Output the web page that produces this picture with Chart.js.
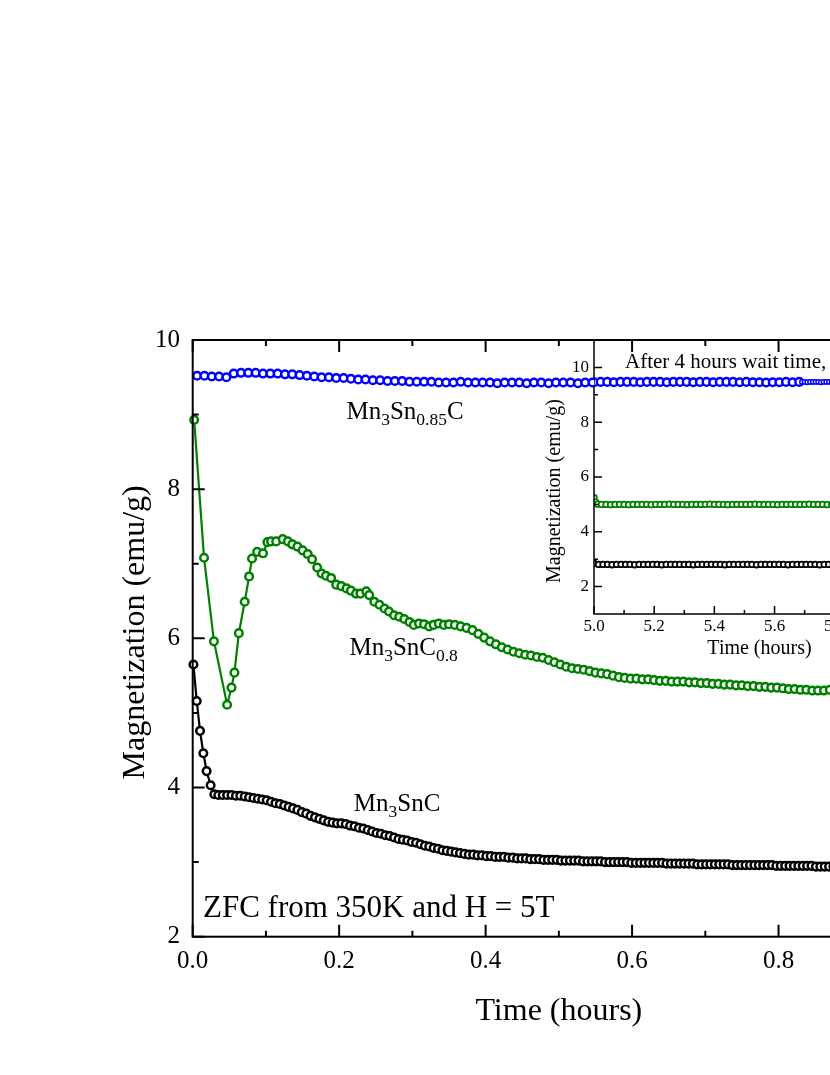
<!DOCTYPE html>
<html>
<head>
<meta charset="utf-8">
<title>Magnetization relaxation</title>
<script src="https://cdn.jsdelivr.net/npm/chart.js"></script>
<style>
  html, body { margin: 0; padding: 0; background: #fff; }
  body { width: 830px; height: 1075px; overflow: hidden; position: relative; }
  canvas { position: absolute; }
  #main { left: 0; top: 0; z-index: 2; }
  #inset { left: 440px; top: 300px; z-index: 1; }
</style>
</head>
<body>
<canvas id="inset" width="520" height="400"></canvas>
<canvas id="main" width="960" height="1075"></canvas>
<script>
// Serif font close to the Times look of the original figure
const FONT = '"Liberation Serif", "Times New Roman", serif';

// ---------- main plot: time (hours) vs magnetization (emu/g) ----------
const blackTime = [
  0.001, 0.0055, 0.010, 0.0145, 0.019, 0.0245, 0.0295,
  0.035, 0.041, 0.047, 0.053, 0.059, 0.065, 0.071, 0.077, 0.083, 0.089,
  0.095, 0.101, 0.107, 0.113, 0.119, 0.125, 0.131, 0.137, 0.143, 0.149,
  0.155, 0.161, 0.167, 0.173, 0.179, 0.185, 0.191, 0.197, 0.203, 0.209,
  0.215, 0.221, 0.227, 0.233, 0.239, 0.245, 0.251, 0.257, 0.263, 0.269,
  0.275, 0.281, 0.287, 0.293, 0.299, 0.305, 0.311, 0.317, 0.323, 0.329,
  0.335, 0.341, 0.347, 0.353, 0.359, 0.365, 0.371, 0.377, 0.383, 0.389,
  0.395, 0.401, 0.407, 0.413, 0.419, 0.425, 0.431, 0.437, 0.443, 0.449,
  0.455, 0.461, 0.467, 0.473, 0.479, 0.485, 0.491, 0.497, 0.503, 0.509,
  0.515, 0.521, 0.527, 0.533, 0.539, 0.545, 0.551, 0.557, 0.563, 0.569,
  0.575, 0.581, 0.587, 0.593, 0.599, 0.605, 0.611, 0.617, 0.623, 0.629,
  0.635, 0.641, 0.647, 0.653, 0.659, 0.665, 0.671, 0.677, 0.683, 0.689,
  0.695, 0.701, 0.707, 0.713, 0.719, 0.725, 0.731, 0.737, 0.743, 0.749,
  0.755, 0.761, 0.767, 0.773, 0.779, 0.785, 0.791, 0.797, 0.803, 0.809,
  0.815, 0.821, 0.827, 0.833, 0.839, 0.845, 0.851, 0.857, 0.863, 0.869,
  0.875, 0.881, 0.887, 0.893, 0.899, 0.905, 0.911, 0.917, 0.923, 0.929,
  0.935, 0.941, 0.947, 0.953, 0.959, 0.965, 0.971, 0.977, 0.983, 0.989,
  0.995
];
const blackMag = [
  5.65, 5.16, 4.76, 4.46, 4.22, 4.03, 3.91,
  3.90, 3.90, 3.90, 3.90, 3.89, 3.89, 3.88, 3.87, 3.86, 3.85,
  3.84, 3.83, 3.81, 3.79, 3.78, 3.76, 3.74, 3.72, 3.70, 3.67,
  3.65, 3.62, 3.60, 3.58, 3.56, 3.54, 3.53, 3.52, 3.52, 3.51,
  3.49, 3.48, 3.46, 3.45, 3.43, 3.41, 3.39, 3.38, 3.36, 3.35,
  3.33, 3.31, 3.30, 3.29, 3.27, 3.26, 3.24, 3.22, 3.21, 3.19,
  3.18, 3.16, 3.15, 3.14, 3.13, 3.12, 3.11, 3.10, 3.10, 3.09,
  3.09, 3.08, 3.08, 3.07, 3.07, 3.07, 3.06, 3.06, 3.05, 3.05,
  3.05, 3.04, 3.04, 3.04, 3.03, 3.03, 3.03, 3.03, 3.02, 3.02,
  3.02, 3.02, 3.02, 3.01, 3.01, 3.01, 3.01, 3.01, 3.00, 3.00,
  3.00, 3.00, 3.00, 3.00, 2.99, 2.99, 2.99, 2.99, 2.99, 2.99,
  2.99, 2.99, 2.98, 2.98, 2.98, 2.98, 2.98, 2.98, 2.98, 2.97,
  2.97, 2.97, 2.97, 2.97, 2.97, 2.97, 2.97, 2.96, 2.96, 2.96,
  2.96, 2.96, 2.96, 2.96, 2.96, 2.96, 2.96, 2.95, 2.95, 2.95,
  2.95, 2.95, 2.95, 2.95, 2.95, 2.95, 2.94, 2.94, 2.94, 2.94,
  2.94, 2.94, 2.94, 2.94, 2.94, 2.94, 2.94, 2.94, 2.94, 2.93,
  2.93, 2.93, 2.93, 2.93, 2.93, 2.93, 2.93, 2.93, 2.93, 2.93,
  2.93
];

const greenTime = [
  0.002, 0.0155, 0.029, 0.047, 0.053, 0.057, 0.063, 0.071, 0.077, 0.081,
  0.088, 0.096, 0.102, 0.107, 0.114, 0.123, 0.130, 0.136, 0.143, 0.150,
  0.157, 0.163, 0.170, 0.176, 0.182, 0.189, 0.196, 0.203, 0.210, 0.216,
  0.223, 0.229, 0.237, 0.241, 0.248, 0.255, 0.262, 0.268, 0.275, 0.282,
  0.289, 0.296, 0.302, 0.309, 0.316, 0.323, 0.329, 0.336, 0.343,
  0.350, 0.358, 0.366, 0.374, 0.382, 0.390, 0.398, 0.406, 0.414, 0.422,
  0.430, 0.438, 0.446, 0.454, 0.462, 0.470, 0.478, 0.486, 0.494, 0.502,
  0.510, 0.518, 0.526, 0.534, 0.542, 0.550, 0.558, 0.566, 0.574, 0.582,
  0.590, 0.598, 0.606, 0.614, 0.622, 0.630, 0.638, 0.646, 0.654, 0.662,
  0.670, 0.678, 0.686, 0.694, 0.702, 0.710, 0.718, 0.726, 0.734, 0.742,
  0.750, 0.758, 0.766, 0.774, 0.782, 0.790, 0.798, 0.806, 0.814, 0.822,
  0.830, 0.838, 0.846, 0.854, 0.862, 0.870, 0.878, 0.886, 0.894, 0.902,
  0.910, 0.918, 0.926, 0.934, 0.942, 0.950, 0.958, 0.966, 0.974, 0.982,
  0.990, 0.998
];
const greenMag = [
  8.93, 7.08, 5.96, 5.11, 5.34, 5.54, 6.07, 6.49, 6.83, 7.07,
  7.16, 7.14, 7.29, 7.30, 7.30, 7.33, 7.30, 7.26, 7.23, 7.18,
  7.13, 7.06, 6.95, 6.87, 6.84, 6.81, 6.72, 6.70, 6.67, 6.64,
  6.60, 6.60, 6.63, 6.58, 6.49, 6.45, 6.40, 6.36, 6.31, 6.29,
  6.26, 6.22, 6.18, 6.20, 6.19, 6.16, 6.18, 6.20, 6.18,
  6.19, 6.18, 6.16, 6.14, 6.11, 6.06, 6.01, 5.96, 5.92, 5.88,
  5.85, 5.82, 5.80, 5.78, 5.77, 5.75, 5.74, 5.71, 5.68, 5.65,
  5.62, 5.60, 5.59, 5.58, 5.56, 5.54, 5.53, 5.52, 5.50, 5.48,
  5.47, 5.46, 5.46, 5.45, 5.45, 5.44, 5.43, 5.43, 5.42, 5.42,
  5.42, 5.41, 5.41, 5.40, 5.40, 5.39, 5.39, 5.38, 5.38, 5.37,
  5.37, 5.36, 5.36, 5.35, 5.35, 5.34, 5.34, 5.33, 5.32, 5.32,
  5.31, 5.31, 5.30, 5.30, 5.30, 5.31, 5.30, 5.30, 5.29, 5.29,
  5.29, 5.28, 5.28, 5.28, 5.28, 5.27, 5.27, 5.27, 5.27, 5.26,
  5.26, 5.26
];

const blueTime = [
  0.006, 0.016, 0.026, 0.036, 0.046, 0.056, 0.066, 0.076, 0.086, 0.096,
  0.106, 0.116, 0.126, 0.136, 0.146, 0.156, 0.166, 0.176, 0.186, 0.196,
  0.206, 0.216, 0.226, 0.236, 0.246, 0.256, 0.266, 0.276, 0.286, 0.296,
  0.306, 0.316, 0.326, 0.336, 0.346, 0.356, 0.366, 0.376, 0.386, 0.396,
  0.406, 0.416, 0.426, 0.436, 0.446, 0.456, 0.466, 0.476, 0.486, 0.496,
  0.506, 0.516, 0.526, 0.536, 0.546, 0.556, 0.566, 0.576, 0.586, 0.596
];
const blueMag = [
  9.52, 9.52, 9.51, 9.51, 9.50, 9.55, 9.56, 9.56, 9.56, 9.55,
  9.55, 9.55, 9.54, 9.54, 9.53, 9.52, 9.51, 9.50, 9.50, 9.49,
  9.49, 9.48, 9.47, 9.47, 9.46, 9.46, 9.45, 9.45, 9.45, 9.44,
  9.44, 9.44, 9.44, 9.43, 9.43, 9.43, 9.44, 9.43, 9.43, 9.43,
  9.43, 9.42, 9.43, 9.43, 9.43, 9.42, 9.43, 9.43, 9.42, 9.43,
  9.43, 9.43, 9.42, 9.43, 9.43, 9.43, 9.43, 9.43, 9.43, 9.43
];

// ---------- inset: after 4 hours wait time ----------
const insetBlueTime = [
  5.000, 5.022, 5.044, 5.066, 5.088, 5.110, 5.132, 5.154, 5.176, 5.198,
  5.220, 5.242, 5.264, 5.286, 5.308, 5.330, 5.352, 5.374, 5.396, 5.418,
  5.440, 5.462, 5.484, 5.506, 5.528, 5.550, 5.572, 5.594, 5.616, 5.638,
  5.660, 5.682,
  5.691, 5.700, 5.709, 5.718, 5.727, 5.736, 5.745, 5.754, 5.763, 5.772,
  5.781, 5.790, 5.799, 5.808, 5.817, 5.826, 5.835, 5.844, 5.853, 5.862,
  5.871, 5.880, 5.889, 5.898, 5.907, 5.916, 5.925, 5.934, 5.943, 5.952,
  5.961, 5.970, 5.979, 5.988, 5.997, 6.006, 6.015, 6.024, 6.033, 6.042,
  6.051, 6.060, 6.069, 6.078, 6.087, 6.096
];
const insetBlueMag = [
  9.46, 9.47, 9.47, 9.46, 9.47, 9.47, 9.47, 9.46, 9.47, 9.47,
  9.47, 9.46, 9.47, 9.47, 9.47, 9.46, 9.47, 9.47, 9.46, 9.47,
  9.47, 9.47, 9.46, 9.47, 9.46, 9.46, 9.45, 9.46, 9.46, 9.47,
  9.46, 9.47,
  9.47, 9.47, 9.46, 9.47, 9.47, 9.47, 9.47, 9.46, 9.47, 9.47,
  9.47, 9.47, 9.47, 9.46, 9.47, 9.47, 9.47, 9.47, 9.47, 9.46,
  9.47, 9.47, 9.47, 9.47, 9.46, 9.47, 9.47, 9.47, 9.47, 9.47,
  9.46, 9.47, 9.47, 9.47, 9.47, 9.47, 9.46, 9.47, 9.47, 9.47,
  9.47, 9.47, 9.46, 9.47, 9.47, 9.47
];

const insetGreenTime = [
  5.000, 5.006, 5.012, 5.025, 5.040, 5.055, 5.070, 5.085, 5.100, 5.115,
  5.130, 5.145, 5.160, 5.175, 5.190, 5.205, 5.220, 5.235, 5.250, 5.265,
  5.280, 5.295, 5.310, 5.325, 5.340, 5.355, 5.370, 5.385, 5.400, 5.415,
  5.430, 5.445, 5.460, 5.475, 5.490, 5.505, 5.520, 5.535, 5.550, 5.565,
  5.580, 5.595, 5.610, 5.625, 5.640, 5.655, 5.670, 5.685, 5.700, 5.715,
  5.730, 5.745, 5.760, 5.775, 5.790, 5.805, 5.820, 5.835, 5.850, 5.865,
  5.880, 5.895, 5.910, 5.925, 5.940, 5.955, 5.970, 5.985, 6.000, 6.015,
  6.030, 6.045, 6.060, 6.075
];
const insetGreenMag = [
  5.25, 5.08, 5.01, 5.00, 5.00, 4.99, 5.00, 5.00, 5.00, 4.99,
  5.00, 5.00, 5.00, 5.00, 4.99, 5.00, 5.00, 5.00, 5.01, 5.00,
  5.00, 5.00, 4.99, 5.00, 5.00, 5.00, 5.00, 5.01, 5.00, 5.00,
  5.00, 4.99, 5.00, 5.00, 5.00, 5.00, 5.00, 5.01, 5.00, 5.00,
  5.00, 5.00, 4.99, 5.00, 5.00, 5.00, 5.00, 5.00, 5.00, 5.01,
  5.00, 5.00, 5.00, 4.99, 5.00, 5.00, 5.00, 5.00, 5.00, 5.00,
  5.01, 5.00, 5.00, 5.00, 5.00, 4.99, 5.00, 5.00, 5.00, 5.00,
  5.00, 5.00, 5.01, 5.00
];

const insetBlackTime = [
  5.000, 5.015, 5.030, 5.045, 5.060, 5.075, 5.090, 5.105, 5.120, 5.135,
  5.150, 5.165, 5.180, 5.195, 5.210, 5.225, 5.240, 5.255, 5.270, 5.285,
  5.300, 5.315, 5.330, 5.345, 5.360, 5.375, 5.390, 5.405, 5.420, 5.435,
  5.450, 5.465, 5.480, 5.495, 5.510, 5.525, 5.540, 5.555, 5.570, 5.585,
  5.600, 5.615, 5.630, 5.645, 5.660, 5.675, 5.690, 5.705, 5.720, 5.735,
  5.750, 5.765, 5.780, 5.795, 5.810, 5.825, 5.840, 5.855, 5.870, 5.885,
  5.900, 5.915, 5.930, 5.945, 5.960, 5.975, 5.990, 6.005, 6.020, 6.035,
  6.050, 6.065, 6.080, 6.095
];
const insetBlackMag = [
  2.85, 2.81, 2.81, 2.81, 2.80, 2.81, 2.81, 2.81, 2.81, 2.80,
  2.81, 2.81, 2.81, 2.81, 2.81, 2.80, 2.81, 2.81, 2.81, 2.81,
  2.81, 2.81, 2.80, 2.81, 2.81, 2.81, 2.81, 2.81, 2.81, 2.80,
  2.81, 2.81, 2.81, 2.81, 2.81, 2.81, 2.80, 2.81, 2.81, 2.81,
  2.81, 2.81, 2.81, 2.80, 2.81, 2.81, 2.81, 2.81, 2.81, 2.81,
  2.80, 2.81, 2.81, 2.81, 2.81, 2.81, 2.81, 2.81, 2.80, 2.81,
  2.81, 2.81, 2.81, 2.81, 2.81, 2.80, 2.81, 2.81, 2.81, 2.81,
  2.81, 2.81, 2.81, 2.80
];

// ---------- tick values ----------
const mainXTicks = [0, 0.2, 0.4, 0.6, 0.8, 1.0];
const mainYTicks = [2, 4, 6, 8, 10];
const insetXTicks = [5.0, 5.2, 5.4, 5.6, 5.8, 6.0];
const insetYTicks = [2, 4, 6, 8, 10];

// ---------- text labels (piece, isSubscript) ----------
const labelBlue = [['Mn', 0], ['3', 1], ['Sn', 0], ['0.85', 1], ['C', 0]];
const labelGreen = [['Mn', 0], ['3', 1], ['SnC', 0], ['0.8', 1]];
const labelBlack = [['Mn', 0], ['3', 1], ['SnC', 0]];

// Helper: zip two arrays into {x, y} points
function points(xs, ys) {
  return xs.map((x, i) => ({ x: x, y: ys[i] }));
}

// Helper: midpoints between consecutive major ticks (minor tick positions)
function midpoints(arr) {
  return arr.slice(1).map((v, i) => (v + arr[i]) / 2);
}

// One dataset with open circle markers
function series(xs, ys, color, extra) {
  return Object.assign({
    data: points(xs, ys),
    borderColor: color,
    pointBorderColor: color,
    pointBackgroundColor: '#fff',
    borderWidth: 2.2,
    pointBorderWidth: 2.5,
    pointRadius: 3.8,
    pointHoverRadius: 3.8,
    tension: 0
  }, extra || {});
}

// Write a chemical formula with subscripts, left aligned on a baseline
function drawFormula(ctx, parts, x, y, size) {
  let cx = x;
  parts.forEach(([txt, sub]) => {
    const s = sub ? size * 0.7 : size;
    ctx.font = s + 'px ' + FONT;
    ctx.fillText(txt, cx, sub ? y + size * 0.24 : y);
    cx += ctx.measureText(txt).width;
  });
}

// Plugin: frame around the plot with inward (Origin style) tick marks
function frameTicks(o) {
  return {
    id: 'frameTicks',
    afterDraw(chart) {
      const { ctx, chartArea: a } = chart;
      const sx = chart.scales.x, sy = chart.scales.y;
      ctx.save();
      ctx.strokeStyle = '#000';
      ctx.lineWidth = o.lineWidth;
      ctx.beginPath();
      const tickX = (v, len) => {
        const p = sx.getPixelForValue(v);
        ctx.moveTo(p, a.bottom); ctx.lineTo(p, a.bottom - len);
        if (o.mirror) { ctx.moveTo(p, a.top); ctx.lineTo(p, a.top + len); }
      };
      const tickY = (v, len) => {
        const p = sy.getPixelForValue(v);
        ctx.moveTo(a.left, p); ctx.lineTo(a.left + len, p);
        if (o.mirror) { ctx.moveTo(a.right, p); ctx.lineTo(a.right - len, p); }
      };
      o.xMajor.forEach(v => tickX(v, o.major));
      midpoints(o.xMajor).forEach(v => tickX(v, o.minor));
      o.yMajor.forEach(v => tickY(v, o.major));
      midpoints(o.yMajor).forEach(v => tickY(v, o.minor));
      ctx.stroke();
      ctx.strokeRect(a.left, a.top, a.right - a.left, a.bottom - a.top);
      ctx.restore();
    }
  };
}

// Shared axis settings (ticks drawn by frameTicks, labels by Chart.js)
function axis(min, max, ticks, size, padding, fmt, fit) {
  return {
    type: 'linear',
    min: min,
    max: max,
    afterBuildTicks: s => { s.ticks = ticks.map(v => ({ value: v })); },
    afterFit: fit,
    grid: { display: false, drawTicks: false },
    border: { display: false },
    ticks: {
      padding: padding,
      color: '#000',
      autoSkip: false,
      maxRotation: 0,
      font: { family: FONT, size: size },
      callback: fmt
    }
  };
}

document.addEventListener('DOMContentLoaded', () => {
  // 1. Inset chart (sits under the main canvas)
  const insetCanvas = document.getElementById('inset');
  const insetText = {
    id: 'insetText',
    afterDraw(chart) {
      const { ctx, chartArea: a, scales: { x, y } } = chart;
      ctx.save();
      ctx.fillStyle = '#000';
      ctx.textAlign = 'center';
      ctx.textBaseline = 'middle';
      ctx.font = '20px ' + FONT;
      ctx.fillText('Time (hours)', (a.left + a.right) / 2, a.bottom + 34.5);
      ctx.translate(a.left - 39, (a.top + a.bottom) / 2 + 14);
      ctx.rotate(-Math.PI / 2);
      ctx.fillText('Magnetization (emu/g)', 0, 0);
      ctx.restore();
      ctx.save();
      ctx.fillStyle = '#000';
      ctx.textAlign = 'left';
      ctx.textBaseline = 'alphabetic';
      ctx.font = '21px ' + FONT;
      ctx.fillText('After 4 hours wait time,', x.getPixelForValue(5.103), y.getPixelForValue(9.97));
      ctx.restore();
    }
  };

  const insetChart = new Chart(insetCanvas, {
    type: 'line',
    data: {
      datasets: [
        series(insetBlackTime, insetBlackMag, '#000000', { borderWidth: 1.5, pointBorderWidth: 1.8, pointRadius: 2.8 }),
        series(insetGreenTime, insetGreenMag, '#008000', { borderWidth: 1.5, pointBorderWidth: 1.8, pointRadius: 2.8 }),
        series(insetBlueTime, insetBlueMag, '#0000ff', {
          pointRadius: c => (c.raw && c.raw.x > 5.685 ? 2.2 : 3.8),
          pointBorderWidth: c => (c.raw && c.raw.x > 5.685 ? 1.5 : 2.5)
        })
      ]
    },
    options: {
      responsive: false,
      animation: false,
      events: [],
      layout: { padding: { left: 100, top: 40, right: 35, bottom: 16 } },
      plugins: { legend: { display: false }, tooltip: { enabled: false } },
      scales: {
        x: axis(5.0, 6.1, insetXTicks, 17, 2, v => v.toFixed(1), s => { s.height = 70; }),
        y: axis(1, 11, insetYTicks, 17, 5, v => String(v), s => { s.width = 54; })
      }
    },
    plugins: [frameTicks({ lineWidth: 1.5, major: 8, minor: 4, mirror: false, xMajor: insetXTicks, yMajor: insetYTicks }), insetText]
  });

  // 2. Area covered by the inset, in main canvas pixels
  const ia = insetChart.chartArea;
  const hole = {
    left: insetCanvas.offsetLeft + ia.left,
    top: insetCanvas.offsetTop + ia.top,
    right: insetCanvas.offsetLeft + ia.right,
    bottom: insetCanvas.offsetTop + ia.bottom
  };

  // Keep the main series out of the inset box
  const insetHole = {
    id: 'insetHole',
    beforeDatasetsDraw(chart) {
      const ctx = chart.ctx;
      ctx.save();
      ctx.beginPath();
      ctx.rect(0, 0, chart.width, chart.height);
      ctx.rect(hole.left, hole.top, hole.right - hole.left, hole.bottom - hole.top);
      ctx.clip('evenodd');
    },
    afterDatasetsDraw(chart) {
      chart.ctx.restore();
    }
  };

  // Axis titles and annotations of the main plot
  const mainText = {
    id: 'mainText',
    afterDraw(chart) {
      const { ctx, chartArea: a, scales: { x, y } } = chart;
      ctx.save();
      ctx.fillStyle = '#000';
      ctx.textAlign = 'center';
      ctx.textBaseline = 'middle';
      ctx.font = '32px ' + FONT;
      ctx.fillText('Time (hours)', (a.left + a.right) / 2, a.bottom + 75);
      ctx.translate(a.left - 57.5, (a.top + a.bottom) / 2 - 6);
      ctx.rotate(-Math.PI / 2);
      ctx.fillText('Magnetization (emu/g)', 0, 0);
      ctx.restore();

      ctx.save();
      ctx.fillStyle = '#000';
      ctx.textAlign = 'left';
      ctx.textBaseline = 'alphabetic';
      drawFormula(ctx, labelBlue, x.getPixelForValue(0.210), y.getPixelForValue(8.94), 25);
      drawFormula(ctx, labelGreen, x.getPixelForValue(0.214), y.getPixelForValue(5.78), 25);
      drawFormula(ctx, labelBlack, x.getPixelForValue(0.220), y.getPixelForValue(3.69), 25);
      ctx.font = '31px ' + FONT;
      ctx.fillText('ZFC from 350K and H = 5T', x.getPixelForValue(0.014), y.getPixelForValue(2.26));
      ctx.restore();
    }
  };

  // 3. Main chart (on top, transparent outside its marks)
  new Chart(document.getElementById('main'), {
    type: 'line',
    data: {
      datasets: [
        series(blackTime, blackMag, '#000000', { clip: false }),
        series(greenTime, greenMag, '#008000', { clip: false }),
        series(blueTime, blueMag, '#0000ff', { clip: false })
      ]
    },
    options: {
      responsive: false,
      animation: false,
      events: [],
      layout: { padding: { left: 110, top: 340, right: 35, bottom: 38.3 } },
      plugins: { legend: { display: false }, tooltip: { enabled: false } },
      scales: {
        x: axis(0, 1.0, mainXTicks, 25, 10, v => v.toFixed(1), s => { s.height = 100; }),
        y: axis(2, 10, mainYTicks, 25, 12.7, v => String(v), s => { s.width = 82.7; })
      }
    },
    plugins: [insetHole, frameTicks({ lineWidth: 2, major: 12, minor: 6, mirror: true, xMajor: mainXTicks, yMajor: mainYTicks }), mainText]
  });
});
</script>
</body>
</html>
